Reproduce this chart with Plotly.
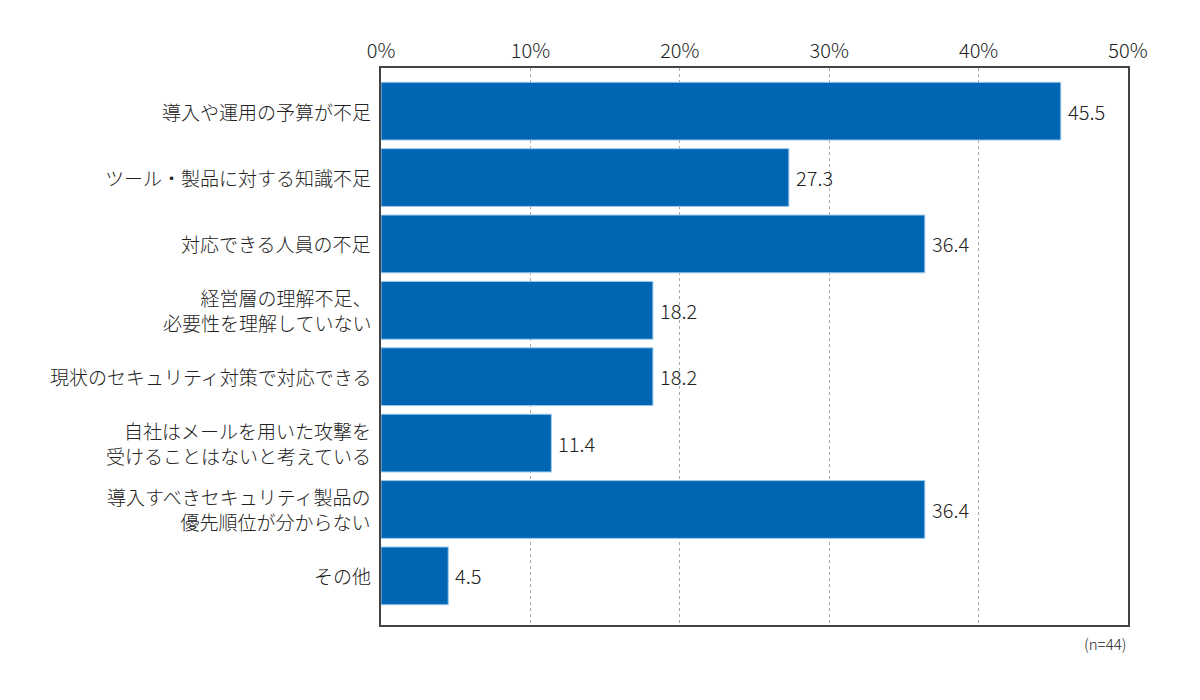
import plotly.graph_objects as go

categories = [
    "導入や運用の予算が不足",
    "ツール・製品に対する知識不足",
    "対応できる人員の不足",
    "経営層の理解不足、<br>必要性を理解していない",
    "現状のセキュリティ対策で対応できる",
    "自社はメールを用いた攻撃を<br>受けることはないと考えている",
    "導入すべきセキュリティ製品の<br>優先順位が分からない",
    "その他",
]
values = [45.5, 27.3, 36.4, 18.2, 18.2, 11.4, 36.4, 4.5]
tick_vals = [0, 10, 20, 30, 40, 50]
tick_text = ["0%", "10%", "20%", "30%", "40%", "50%"]
note = "(n=44)"

font_family = "Noto Sans CJK JP"
text_color = "#222"

ypos = list(range(len(categories)))

fig = go.Figure()
fig.add_trace(go.Bar(
    x=values,
    y=ypos,
    orientation="h",
    width=0.87,
    marker=dict(color="#0066B3", line=dict(color="#9CC8EC", width=1)),
    hoverinfo="skip",
))

annotations = []
# category labels
for i, cat in enumerate(categories):
    annotations.append(dict(
        text=cat, xref="paper", yref="y", x=0, y=i,
        xanchor="right", yanchor="middle", align="right", xshift=-8,
        showarrow=False,
        font=dict(size=19, color=text_color, family=font_family, weight=300),
    ))
# value labels
for i, v in enumerate(values):
    annotations.append(dict(
        text=f"{v:.1f}", xref="x", yref="y", x=v, y=i,
        xanchor="left", yanchor="middle", xshift=5,
        showarrow=False,
        font=dict(size=20, color=text_color, family=font_family, weight=300),
    ))
annotations.append(dict(
    text=note, xref="paper", yref="paper", x=1, y=-0.01,
    xanchor="right", yanchor="top", showarrow=False,
    font=dict(size=15, color=text_color, family=font_family, weight=300),
))

fig.update_layout(
    width=1200, height=700,
    margin=dict(l=373, r=80, t=60, b=83),
    paper_bgcolor="white", plot_bgcolor="white",
    showlegend=False,
    font=dict(family=font_family, color=text_color),
    xaxis=dict(
        side="top", range=[0, 50], tickvals=tick_vals, ticktext=tick_text,
        showgrid=True, gridcolor="#aaa", griddash="3px,3px", gridwidth=1,
        tickfont=dict(size=20, color=text_color, weight=300),
        showline=True, linecolor="#444", linewidth=1.5, mirror=True,
        zeroline=False, ticks="", ticklen=0, automargin=False,
    ),
    yaxis=dict(
        range=[7.74, -0.65], tickvals=ypos, showticklabels=False,
        showline=True, linecolor="#444", linewidth=1.5, mirror=True,
        showgrid=False, zeroline=False, ticks="", ticklen=0, automargin=False,
    ),
    annotations=annotations,
)

fig.write_html("out.html")
